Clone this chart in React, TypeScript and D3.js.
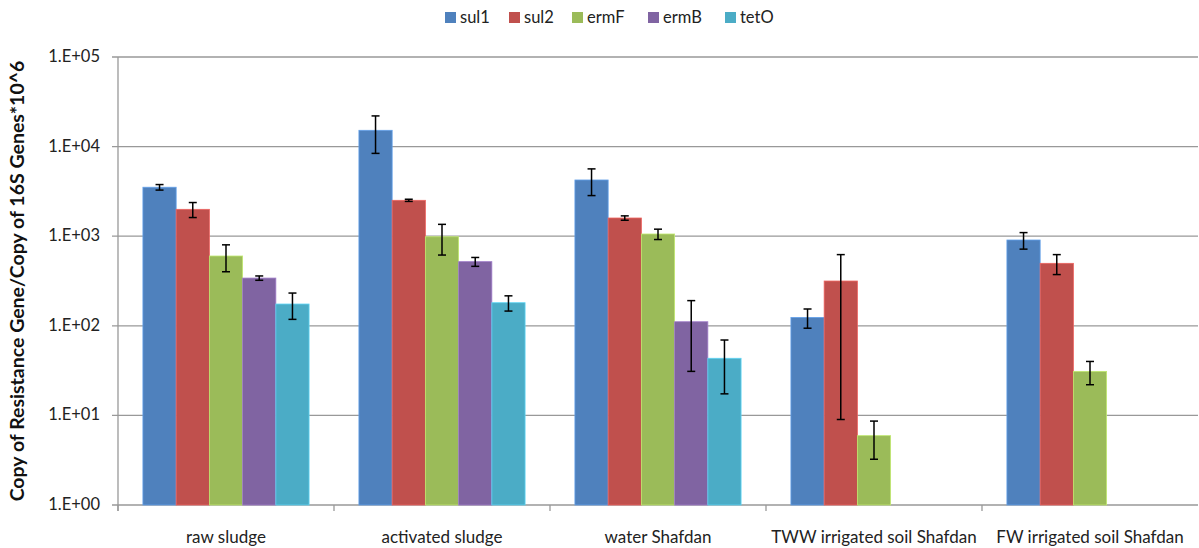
import React, { useEffect, useRef } from "react";
import * as d3 from "d3";

const categories = ["raw sludge", "activated sludge", "water Shafdan", "TWW irrigated soil Shafdan", "FW irrigated soil Shafdan"];
const seriesNames = ["sul1", "sul2", "ermF", "ermB", "tetO"];
const colors = ["#4f81bd", "#c0504d", "#9bbb59", "#8064a2", "#4bacc6"];

const sul1 = [3520, 15200, 4240, 124, 907];
const sul2 = [1995, 2515, 1596, 316, 498];
const ermF = [601, 986, 1058, 5.94, 31];
const ermB = [341, 520, 111, null, null];
const tetO = [175, 181, 43.4, null, null];

const sul1Err = [250, 6800, 1400, 30, 190];
const sul2Err = [380, 70, 90, 307, 125];
const ermFErr = [200, 370, 140, 2.7, 9];
const ermBErr = [19, 59, 80, null, null];
const tetOErr = [57, 35, 26, null, null];

const yTicks = [1, 10, 100, 1000, 10000, 100000];
const yTickLabels = ["1.E+00", "1.E+01", "1.E+02", "1.E+03", "1.E+04", "1.E+05"];
const yTitle = "Copy of Resistance Gene/Copy of 16S Genes*10^6";

const values = [sul1, sul2, ermF, ermB, tetO];
const errors = [sul1Err, sul2Err, ermFErr, ermBErr, tetOErr];

export default function App() {
  const ref = useRef<SVGSVGElement | null>(null);

  useEffect(() => {
    document.body.style.margin = "0";
    const svg = d3.select(ref.current);
    svg.selectAll("*").remove();

    const margin = { top: 57, right: 1, bottom: 43, left: 118 };
    const width = 1199, height = 548;
    const font = "Lato, 'Liberation Sans', sans-serif";

    const x = d3.scaleBand().domain(categories).range([margin.left, width - margin.right]);
    const bw = x.bandwidth() / 6.5;
    const y = d3.scaleLog().domain([1, 100000]).range([height - margin.bottom, margin.top]);

    // gridlines
    svg.append("g")
      .selectAll("line")
      .data(yTicks)
      .enter()
      .append("line")
      .attr("x1", margin.left - 6)
      .attr("x2", width - margin.right)
      .attr("y1", d => y(d))
      .attr("y2", d => y(d))
      .attr("stroke", "#999")
      .attr("stroke-width", 1.3);

    // y axis line
    svg.append("line")
      .attr("x1", margin.left).attr("x2", margin.left)
      .attr("y1", y(100000)).attr("y2", y(1) + 6)
      .attr("stroke", "#999").attr("stroke-width", 1.3);

    // x ticks at category boundaries
    const bounds = categories.map(c => x(c) as number);
    svg.append("g")
      .selectAll("line")
      .data(bounds)
      .enter()
      .append("line")
      .attr("x1", d => d).attr("x2", d => d)
      .attr("y1", y(1)).attr("y2", y(1) + 6)
      .attr("stroke", "#999").attr("stroke-width", 1.3);

    svg.append("g")
      .selectAll("text")
      .data(yTicks)
      .enter()
      .append("text")
      .attr("x", 100)
      .attr("y", d => y(d) + 5)
      .attr("text-anchor", "end")
      .style("font-family", font)
      .style("font-size", "16.5px")
      .style("fill", "#222")
      .text((d, i) => yTickLabels[i]);

    svg.append("text")
      .attr("transform", `translate(24,${(y(1) + y(100000)) / 2}) rotate(-90)`)
      .attr("text-anchor", "middle")
      .style("font-family", font)
      .style("font-weight", "bold")
      .style("font-size", "19.5px")
      .style("fill", "#111")
      .text(yTitle);

    // bars
    seriesNames.forEach((name, si) => {
      const pts = categories
        .map((c, ci) => ({ c, v: values[si][ci], e: errors[si][ci] }))
        .filter(d => d.v != null);
      const g = svg.append("g");
      g.selectAll("rect")
        .data(pts)
        .enter()
        .append("rect")
        .attr("x", d => (x(d.c) as number) + bw * 0.75 + si * bw)
        .attr("width", bw)
        .attr("y", d => y(d.v as number))
        .attr("height", d => y(1) - y(d.v as number))
        .attr("fill", colors[si])
        .attr("stroke", d3.color(colors[si])!.brighter(0.6).toString())
        .attr("stroke-width", 0.8);

      const eb = svg.append("g").attr("stroke", "#000").attr("stroke-width", 1.5);
      pts.forEach(d => {
        const cx = (x(d.c) as number) + bw * 0.75 + si * bw + bw / 2;
        const hi = y((d.v as number) + (d.e as number));
        const lo = y((d.v as number) - (d.e as number));
        eb.append("line").attr("x1", cx).attr("x2", cx).attr("y1", hi).attr("y2", lo);
        eb.append("line").attr("x1", cx - 4).attr("x2", cx + 4).attr("y1", hi).attr("y2", hi);
        eb.append("line").attr("x1", cx - 4).attr("x2", cx + 4).attr("y1", lo).attr("y2", lo);
      });
    });

    // x labels
    svg.append("g")
      .selectAll("text")
      .data(categories)
      .enter()
      .append("text")
      .attr("x", d => (x(d) as number) + x.bandwidth() / 2)
      .attr("y", 543)
      .attr("text-anchor", "middle")
      .style("font-family", font)
      .style("font-size", "17px")
      .style("fill", "#222")
      .text(d => d);

    // legend
    const legendX = [445, 509, 572, 648, 725];
    const lg = svg.append("g");
    seriesNames.forEach((name, i) => {
      lg.append("rect")
        .attr("x", legendX[i]).attr("y", 12)
        .attr("width", 11).attr("height", 11)
        .attr("fill", colors[i]);
      lg.append("text")
        .attr("x", legendX[i] + 15).attr("y", 23)
        .style("font-family", font)
        .style("font-size", "16.5px")
        .style("fill", "#222")
        .text(name);
    });
  }, []);

  return <svg ref={ref} width={1199} height={548} style={{ display: "block", background: "#fff" }} />;
}
